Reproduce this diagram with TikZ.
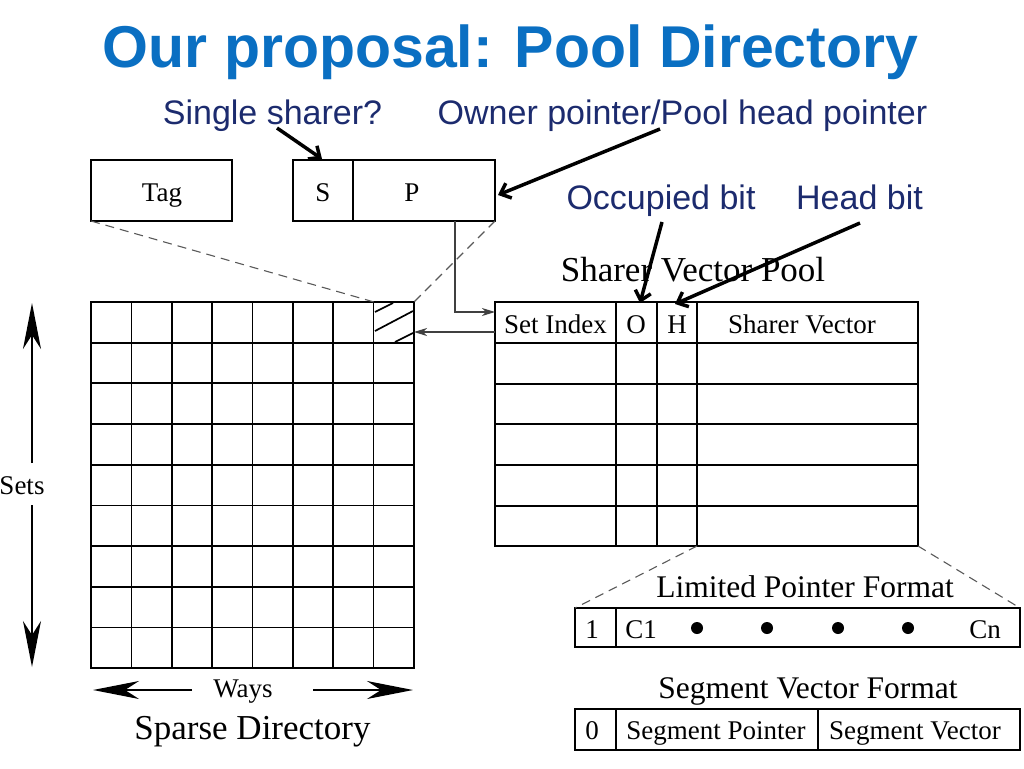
\documentclass[tikz,border=0pt]{standalone}
\usepackage{fontspec}
\setmainfont{Liberation Serif}
\newfontfamily\slidefont{Liberation Sans}
\usetikzlibrary{arrows.meta}
\definecolor{titleblue}{HTML}{0A6FC2}
\definecolor{navy}{HTML}{1C2B6E}
\begin{document}
\begin{tikzpicture}[x=1pt,y=-1pt,
  thick line/.style={line width=1.7pt},
  box/.style={draw, line width=1.7pt, inner sep=0pt, outer sep=0pt, anchor=north west},
  txt/.style={font=\fontsize{27}{30}\selectfont, inner sep=0pt, anchor=base},
  captxt/.style={font=\fontsize{35}{40}\selectfont, inner sep=0pt, anchor=base},
  annot/.style={font=\slidefont\fontsize{34}{38}\selectfont, text=navy, inner sep=0pt, anchor=base},
  callout/.style={line width=3.5pt, -{Straight Barb[length=9pt,width=16pt,line width=3.5pt]}},
  link/.style={line width=1.3pt, draw=black!75, -{Stealth[length=13pt,width=8pt,inset=4pt]}},
  zoomline/.style={line width=1.1pt, draw=black!65, dash pattern=on 9pt off 6pt},
  bigarrow/.style={line width=1.6pt, -{Stealth[length=46pt,width=18pt,inset=14pt]}}
]
\useasboundingbox (0,0) rectangle (1024,768);

% Title
\node[font=\slidefont\bfseries\fontsize{59}{64}\selectfont, text=titleblue, inner sep=0pt, anchor=base] (title) at (510.5,67) {Our proposal: Pool Directory};

% Annotations
\node[annot] (single) at (272.5,124) {Single sharer?};
\node[annot] (owner) at (682.5,124) {Owner pointer/Pool head pointer};
\node[annot] (occ) at (661,209) {Occupied bit};
\node[annot] (headbit) at (859.5,209) {Head bit};

% Tag and S|P boxes
\node[box, minimum width=141pt, minimum height=61pt] (tag) at (91,160) {};
\node[txt] (tagtxt) at (162,201) {Tag};
\node[box, minimum width=60pt, minimum height=61pt] (sbox) at (293,160) {};
\node[box, minimum width=142pt, minimum height=61pt] (pbox) at (353,160) {};
\node[txt] (stxt) at (323,201) {S};
\node[txt] (ptxt) at (412,201) {P};

% Sparse directory grid
\node[box, minimum width=323pt, minimum height=366pt] (sd) at (91,302) {};
\foreach \i in {1,...,7} \draw[thick line] (91+\i*40.375,302) -- (91+\i*40.375,668);
\foreach \j in {1,...,8} \draw[thick line] (91,302+\j*40.67) -- (414,302+\j*40.67);
\coordinate (hatchnw) at (374,302);
\draw[line width=1.7pt] (375,312) -- (393,303);
\draw[line width=1.7pt] (375,331) -- (413,311);
\draw[line width=1.7pt] (395,342) -- (413,333);

% Sets / Ways
\node[txt] (sets) at (22,494) {Sets};
\coordinate (setsUp) at (32,463);
\coordinate (setsTop) at (32,303);
\coordinate (setsDn) at (32,505);
\coordinate (setsBot) at (32,667);
\draw[bigarrow] (setsUp) -- (setsTop);
\draw[bigarrow] (setsDn) -- (setsBot);
\node[txt] (ways) at (243,697) {Ways};
\coordinate (waysL) at (192,690);
\coordinate (waysLend) at (93,690);
\coordinate (waysR) at (313,690);
\coordinate (waysRend) at (413,690);
\draw[bigarrow] (waysL) -- (waysLend);
\draw[bigarrow] (waysR) -- (waysRend);
\node[captxt] (sdlabel) at (252.5,739) {Sparse Directory};

% Sharer vector pool
\node[captxt] (poollabel) at (693,281) {Sharer Vector Pool};
\node[box, minimum width=423pt, minimum height=244pt] (pool) at (495,302) {};
\foreach \x in {616,657,697} \draw[thick line] (\x,302) -- (\x,546);
\foreach \y in {343,384,424,465,506} \draw[thick line] (495,\y) -- (918,\y);
\node[txt] (setidx) at (555.5,333) {Set Index};
\node[txt] (ocol) at (636,333) {O};
\node[txt] (hcol) at (677,333) {H};
\node[txt] (svcol) at (802,333) {Sharer Vector};
\coordinate (poolc3) at (697,546);

% Links between directory and pool
\coordinate (pdown) at (455,221);
\coordinate (pbend) at (455,312);
\coordinate (poolin) at (495,312);
\draw[link] (pdown) -- (pbend) -- (poolin);
\coordinate (poolout) at (495,332);
\coordinate (sdin) at (414,332);
\draw[link] (poolout) -- (sdin);

% Zoom (dashed) lines
\draw[zoomline] (tag.south west) -- (hatchnw);
\draw[zoomline] (pbox.south east) -- (sd.north east);

% Limited pointer format
\node[captxt, font=\fontsize{31.5}{36}\selectfont] (lplabel) at (805,597) {Limited Pointer Format};
\node[box, minimum width=445pt, minimum height=39pt] (lp) at (575,608) {};
\draw[thick line] (616,608) -- (616,647);
\node[txt] (one) at (592,638) {1};
\node[txt] (c1) at (641,638) {C1};
\foreach \x/\n in {697/d1,767/d2,838/d3,908/d4} \node[circle, fill=black, inner sep=0pt, minimum size=12pt] (\n) at (\x,628) {};
\node[txt] (cn) at (985,638) {Cn};
\draw[zoomline] (poolc3) -- (lp.north west);
\draw[zoomline] (pool.south east) -- (lp.north east);

% Segment vector format
\node[captxt, font=\fontsize{31.5}{36}\selectfont] (svlabel) at (808,698) {Segment Vector Format};
\node[box, minimum width=445pt, minimum height=41pt] (sv) at (575,709) {};
\draw[thick line] (616,709) -- (616,750);
\draw[thick line] (818,709) -- (818,750);
\node[txt] (zero) at (592,739) {0};
\node[txt] (segp) at (716,739) {Segment Pointer};
\node[txt] (segv) at (915,739) {Segment Vector};

% Callout arrows
\coordinate (singleA) at (277,128);
\coordinate (singleB) at (322,159);
\draw[callout] (singleA) -- (singleB);
\coordinate (ownerA) at (660,129);
\coordinate (ownerB) at (498,195);
\draw[callout] (ownerA) -- (ownerB);
\coordinate (occA) at (662,222);
\coordinate (occB) at (640,303);
\draw[callout] (occA) -- (occB);
\coordinate (headA) at (860,223);
\coordinate (headB) at (675,304);
\draw[callout] (headA) -- (headB);
\end{tikzpicture}
\end{document}
